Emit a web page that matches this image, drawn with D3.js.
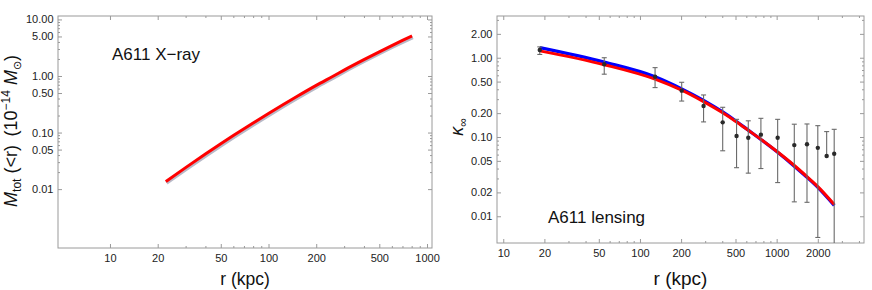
<!DOCTYPE html>
<html><head><meta charset="utf-8">
<script src="https://cdn.jsdelivr.net/npm/d3@7"></script>
<style>
body{margin:0;background:#fff;}
text{font-family:"Liberation Sans",Arial,Helvetica,sans-serif;}
</style></head>
<body><svg id="c" width="872" height="290"></svg>
<script>
// ---- Left panel: A611 X-ray total mass profile ----
const xrayR = [22.5, 30, 40, 50, 60, 80, 100, 150, 200, 257, 300, 400, 500, 600, 700, 804];
const xrayM = [0.0136, 0.024, 0.0417, 0.0633, 0.0883, 0.1475, 0.217, 0.4286, 0.681, 1.0, 1.273, 1.947, 2.677, 3.449, 4.25, 5.1];
const leftXTicks = [10, 20, 50, 100, 200, 500, 1000];
const leftXMinor = [30, 40, 60, 70, 80, 90, 300, 400, 600, 700, 800, 900];
const leftYTicks = [0.01, 0.05, 0.1, 0.5, 1, 5, 10];
const leftYTickLabels = ["0.01", "0.05", "0.10", "0.50", "1.00", "5.00", "10.00"];
const leftYMinor = [0.02, 0.03, 0.04, 0.06, 0.07, 0.08, 0.09, 0.2, 0.3, 0.4, 0.6, 0.7, 0.8, 0.9, 2, 3, 4, 6, 7, 8, 9];

// ---- Right panel: A611 lensing convergence ----
const lensR = [18.5, 54.8, 129, 202, 292, 403, 509, 620, 767, 1017, 1346, 1667, 2000, 2636];
const lensRed = [1.22, 0.817, 0.537, 0.389, 0.279, 0.202, 0.155, 0.1216, 0.0933, 0.0646, 0.0437, 0.0316, 0.0237, 0.0141];
const lensBlue = [1.34, 0.88, 0.575, 0.405, 0.29, 0.207, 0.157, 0.122, 0.093, 0.064, 0.0428, 0.031, 0.0231, 0.0137];
const ptR = [18.5, 54.8, 129, 202, 292, 403, 509, 620, 767, 1017, 1346, 1667, 2000, 2322, 2636];
const ptK = [1.25, 0.826, 0.576, 0.384, 0.246, 0.153, 0.103, 0.098, 0.107, 0.098, 0.079, 0.081, 0.073, 0.0576, 0.0616];
const ptHi = [1.37, 1.0, 0.75, 0.49, 0.339, 0.237, 0.167, 0.16, 0.172, 0.167, 0.145, 0.146, 0.139, 0.117, 0.125];
const ptLo = [1.10, 0.62, 0.42, 0.284, 0.155, 0.067, 0.041, 0.035, 0.04, 0.0266, 0.0152, 0.015, 0.0054, null, 0.0001];
const rightXTicks = [10, 20, 50, 100, 200, 500, 1000, 2000];
const rightXMinor = [30, 40, 60, 70, 80, 90, 300, 400, 600, 700, 800, 900, 3000, 4000];
const rightYTicks = [0.01, 0.02, 0.05, 0.1, 0.2, 0.5, 1, 2];
const rightYTickLabels = ["0.01", "0.02", "0.05", "0.10", "0.20", "0.50", "1.00", "2.00"];
const rightYMinor = [0.03, 0.04, 0.06, 0.07, 0.08, 0.09, 0.3, 0.4, 0.6, 0.7, 0.8, 0.9, 3];

const svg = d3.select("#c");
svg.append("rect").attr("width", 872).attr("height", 290).attr("fill", "#fff");
const frameCol = "#9a9a9a";

function panel(cfg) {
  const {x, y, xt, xm, yt, ytl, ym, id} = cfg;
  const [X0, X1] = x.range(), [Y0, Y1] = [y.range()[0], y.range()[1]];
  const g = svg.append("g");
  const fmtX = d => String(d);
  const ymap = new Map(yt.map((v, i) => [v, ytl[i]]));
  function styleAxis(sel, labels) {
    sel.select(".domain").remove();
    sel.selectAll(".tick line").attr("stroke", frameCol);
    sel.selectAll(".tick text").attr("fill", "#222").attr("font-size", 11)
      .attr("font-family", "Liberation Sans, Arial, sans-serif");
    if (!labels) sel.selectAll(".tick text").remove();
  }
  g.append("g").attr("transform", `translate(0,${Y1})`)
    .call(d3.axisBottom(x).tickValues(xt).tickFormat(fmtX).tickSize(-4).tickPadding(6)).call(s => styleAxis(s, true));
  g.append("g").attr("transform", `translate(0,${Y1})`)
    .call(d3.axisBottom(x).tickValues(xm).tickSize(-2)).call(s => styleAxis(s, false));
  g.append("g").attr("transform", `translate(0,${Y0})`)
    .call(d3.axisTop(x).tickValues(xt).tickSize(-4)).call(s => styleAxis(s, false));
  g.append("g").attr("transform", `translate(0,${Y0})`)
    .call(d3.axisTop(x).tickValues(xm).tickSize(-2)).call(s => styleAxis(s, false));
  g.append("g").attr("transform", `translate(${X0},0)`)
    .call(d3.axisLeft(y).tickValues(yt).tickFormat(d => ymap.get(d)).tickSize(-4).tickPadding(4.5)).call(s => styleAxis(s, true));
  g.append("g").attr("transform", `translate(${X0},0)`)
    .call(d3.axisLeft(y).tickValues(ym).tickSize(-2)).call(s => styleAxis(s, false));
  g.append("g").attr("transform", `translate(${X1},0)`)
    .call(d3.axisRight(y).tickValues(yt).tickSize(-4)).call(s => styleAxis(s, false));
  g.append("g").attr("transform", `translate(${X1},0)`)
    .call(d3.axisRight(y).tickValues(ym).tickSize(-2)).call(s => styleAxis(s, false));
  g.append("rect").attr("x", X0).attr("y", Y0).attr("width", X1 - X0).attr("height", Y1 - Y0)
    .attr("fill", "none").attr("stroke", frameCol).attr("stroke-width", 1);
  svg.append("clipPath").attr("id", id).append("rect")
    .attr("x", X0).attr("y", Y0).attr("width", X1 - X0).attr("height", Y1 - Y0);
  return svg.append("g").attr("clip-path", `url(#${id})`);
}

// ===== Left panel =====
const xL = d3.scaleLog().domain([4.7, 1075]).range([58, 432]);
const yL = d3.scaleLog().domain([11.5, 0.00091]).range([16, 248]);
const gL = panel({x: xL, y: yL, xt: leftXTicks, xm: leftXMinor, yt: leftYTicks, ytl: leftYTickLabels, ym: leftYMinor, id: "clipL"});
const lineL = d3.line().x((d, i) => xL(xrayR[i])).y(d => yL(d)).curve(d3.curveMonotoneX);
gL.append("path").datum(xrayM).attr("d", lineL).attr("fill", "none")
  .attr("stroke", "#b8bac8").attr("stroke-width", 4).attr("transform", "translate(0.7,1.2)");
gL.append("path").datum(xrayM).attr("d", lineL).attr("fill", "none")
  .attr("stroke", "#ff0000").attr("stroke-width", 3);
svg.append("text").attr("x", 112).attr("y", 60).attr("font-size", 17).attr("fill", "#111").text("A611 X\u2212ray");
svg.append("text").attr("x", 245).attr("y", 285).attr("text-anchor", "middle").attr("font-size", 17.5).attr("fill", "#111").text("r (kpc)");
const tL = svg.append("text").attr("transform", "translate(17,131) rotate(-90)").attr("text-anchor", "middle")
  .attr("font-size", 18).attr("fill", "#111");
tL.append("tspan").attr("font-style", "italic").text("M");
tL.append("tspan").attr("font-size", 12).attr("dy", 4).text("tot");
tL.append("tspan").attr("dy", -4).text(" (<r)\u2009 (10");
tL.append("tspan").attr("font-size", 12).attr("dy", -7).text("\u221214");
tL.append("tspan").attr("dy", 7).text(" ");
tL.append("tspan").attr("font-style", "italic").text("M");
tL.append("tspan").attr("font-size", 11).attr("dy", 4).text("\u2299");
tL.append("tspan").attr("dy", -4).text(")");

// ===== Right panel =====
const xR = d3.scaleLog().domain([9.0, 4355]).range([497, 864]);
const yR = d3.scaleLog().domain([3.36, 0.0046]).range([16, 243]);
const gR = panel({x: xR, y: yR, xt: rightXTicks, xm: rightXMinor, yt: rightYTicks, ytl: rightYTickLabels, ym: rightYMinor, id: "clipR"});
const lineR = d3.line().x((d, i) => xR(lensR[i])).y(d => yR(d)).curve(d3.curveMonotoneX);
gR.append("path").datum(lensBlue).attr("d", lineR).attr("fill", "none").attr("stroke", "#0000ff").attr("stroke-width", 3.2);
gR.append("path").datum(lensRed).attr("d", lineR).attr("fill", "none").attr("stroke", "#ff0000").attr("stroke-width", 3);
const eb = gR.append("g").attr("stroke", "#6a6a6a").attr("stroke-width", 1.1);
ptR.forEach((r, i) => {
  const cx = xR(r);
  const top = yR(ptHi[i]);
  const bot = ptLo[i] === null ? yR(ptK[i]) : yR(ptLo[i]);
  eb.append("line").attr("x1", cx).attr("x2", cx).attr("y1", top).attr("y2", bot);
  eb.append("line").attr("x1", cx - 2.5).attr("x2", cx + 2.5).attr("y1", top).attr("y2", top);
  if (ptLo[i] !== null) eb.append("line").attr("x1", cx - 2.5).attr("x2", cx + 2.5).attr("y1", bot).attr("y2", bot);
});
gR.append("g").selectAll("circle").data(ptK).join("circle")
  .attr("cx", (d, i) => xR(ptR[i])).attr("cy", d => yR(d)).attr("r", 2.2).attr("fill", "#2a2a2a");
svg.append("text").attr("x", 548).attr("y", 223).attr("font-size", 17).attr("fill", "#111").text("A611 lensing");
svg.append("text").attr("x", 680.5).attr("y", 285).attr("text-anchor", "middle").attr("font-size", 19).attr("fill", "#111").text("r (kpc)");
const tR = svg.append("text").attr("transform", "translate(463,127) rotate(-90)").attr("text-anchor", "middle")
  .attr("font-size", 18).attr("fill", "#111");
tR.append("tspan").attr("font-style", "italic").text("\u03ba");
tR.append("tspan").attr("font-size", 12).attr("dy", 4).text("\u221e");
</script></body></html>
